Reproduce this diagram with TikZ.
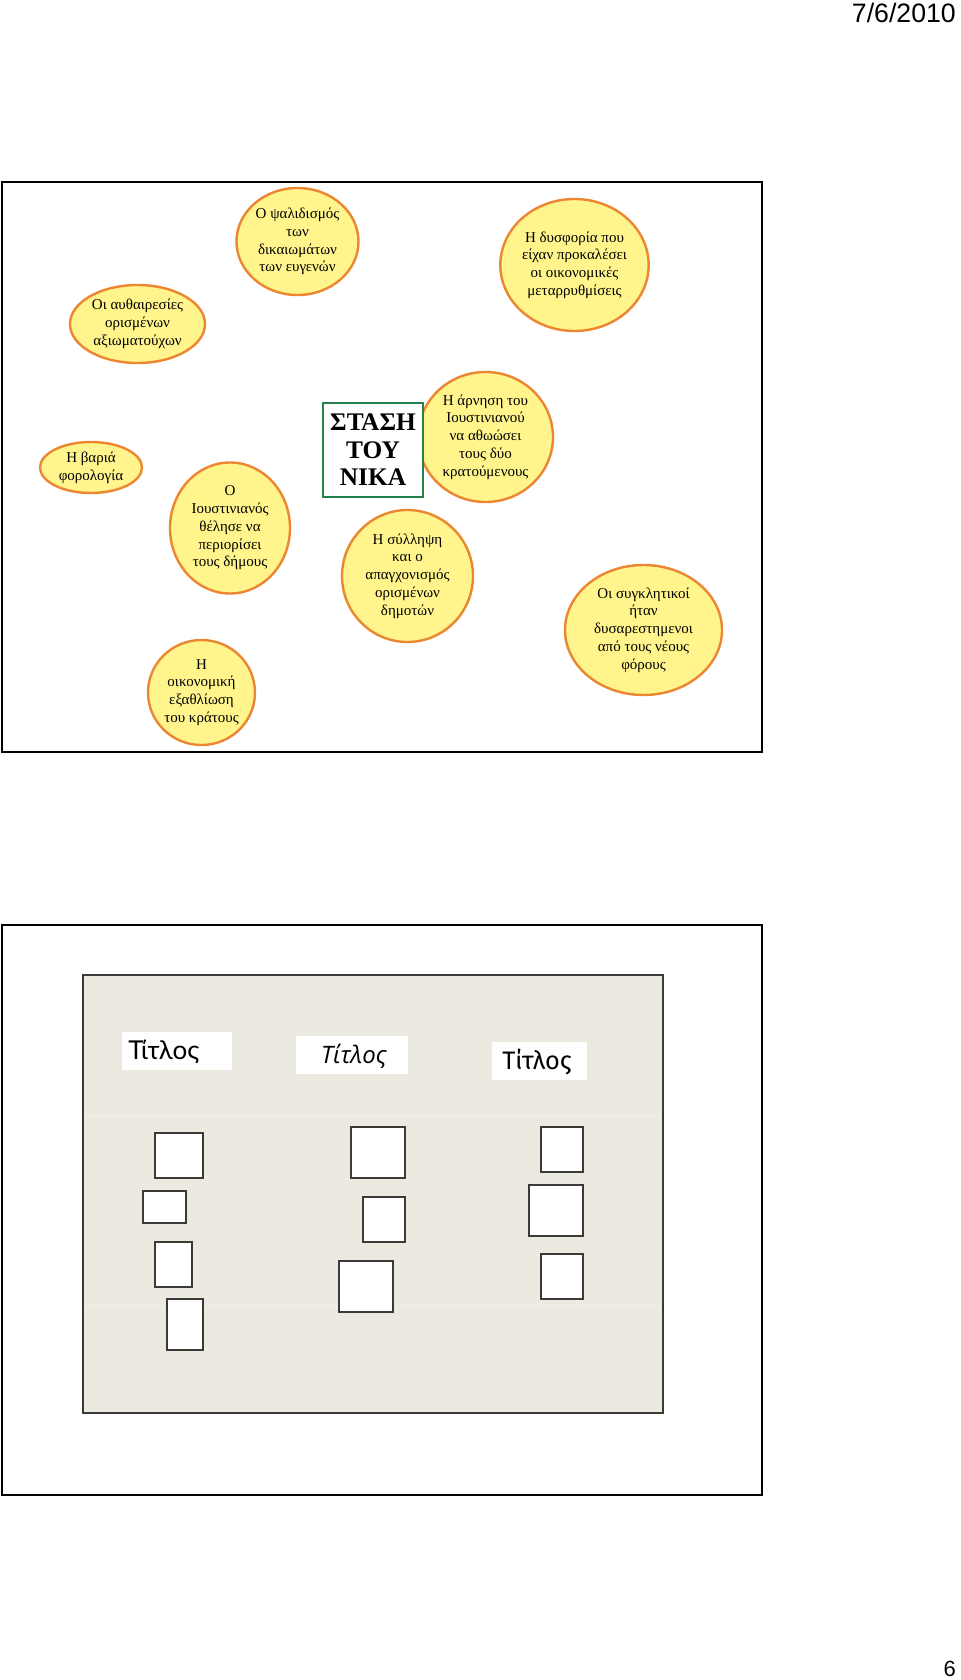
\documentclass[tikz,border=0pt]{standalone}
\usepackage{fontspec}
\setmainfont{Liberation Serif}
\newfontfamily\arialf{Liberation Sans}
\newfontfamily\titlea{Lato}
\newfontfamily\titleb{Open Sans}
\newfontfamily\titlec{Fira Sans}
\usetikzlibrary{shapes.geometric}
\definecolor{ellfill}{RGB}{255,245,140}
\definecolor{elldraw}{RGB}{236,134,48}
\definecolor{boxgreen}{RGB}{38,128,78}
\definecolor{panelbg}{RGB}{236,234,224}
\definecolor{sqdraw}{RGB}{60,58,54}
\tikzset{
  ell/.style={ellipse, draw=elldraw, fill=ellfill, line width=1.8pt, inner sep=0pt,
    align=center, font=\fontsize{11.25}{13.3}\selectfont},
  framebox/.style={draw=black, line width=1.9pt},
  sqbox/.style={draw=sqdraw, fill=white, line width=1.2pt},
  titlebox/.style={fill=white, draw=none}
}
\newcommand\ellnode[6]{\node[ell, minimum width={#4*1.5pt}, minimum height={#5*1.5pt}] (#1) at (#2,#3) {#6};}
\begin{document}
\begin{tikzpicture}[x=0.75pt,y=-0.75pt]
\useasboundingbox (0,0) rectangle (960,1680);
\fill[white] (0,0) rectangle (960,1680);
% header and footer
\node[anchor=east, inner sep=0pt, font=\arialf\fontsize{20}{23}\selectfont] (date) at (956,13) {7/6/2010};
\node[anchor=east, inner sep=0pt, font=\arialf\fontsize{16.5}{19}\selectfont] (pagenum) at (956,1669) {6};
% frame 1
\draw[framebox] (2,182) rectangle (762,752);
\ellnode{e1}{137.5}{324}{67.5}{39}{Οι αυθαιρεσίες\\ορισμένων\\αξιωματούχων}
\ellnode{e2}{297.5}{241.5}{61}{53.5}{Ο ψαλιδισμός\\των\\δικαιωμάτων\\των ευγενών}
\ellnode{e3}{574.5}{265}{73.5}{66}{Η δυσφορία που\\είχαν προκαλέσει\\οι οικονομικές\\μεταρρυθμίσεις}
\ellnode{e4}{91}{467.5}{51}{25.5}{Η βαριά\\φορολογία}
\ellnode{e5}{230}{528}{60}{65.5}{Ο\\Ιουστινιανός\\θέλησε να\\περιορίσει\\τους δήμους}
\ellnode{e6}{407.5}{576}{65.5}{66}{Η σύλληψη\\και ο\\απαγχονισμός\\ορισμένων\\δημοτών}
\ellnode{e7}{201.5}{692.5}{53.5}{52.5}{Η\\οικονομική\\εξαθλίωση\\του κράτους}
\ellnode{e8}{485.5}{437}{67.5}{65}{Η άρνηση του\\Ιουστινιανού\\να αθωώσει\\τους δύο\\κρατούμενους}
\ellnode{e9}{643.5}{630}{78.5}{65}{Οι συγκλητικοί\\ήταν\\δυσαρεστημενοι\\από τους νέους\\φόρους}
\node[draw=boxgreen, fill=white, line width=1.6pt, minimum width=75pt, minimum height=70.5pt,
  inner sep=0pt, align=center, font=\bfseries\fontsize{19}{20.6}\selectfont] (stasi) at (373,450)
  {ΣΤΑΣΗ\\ΤΟΥ\\ΝΙΚΑ};
% frame 2
\draw[framebox] (2,925) rectangle (762,1495);
\draw[fill=panelbg, draw=sqdraw, line width=1pt] (83,975) rectangle (663,1413);
\draw[white!30!panelbg, line width=0.5pt] (84,1115) -- (662,1115);
\draw[white!30!panelbg, line width=0.5pt] (84,1305) -- (662,1305);
% titles
\node[titlebox, minimum width=82.5pt, minimum height=28.5pt] (tb1) at (177,1051) {};
\node[anchor=west, inner sep=0pt, font=\titlea\fontsize{19.5}{22}\selectfont] (t1) at (128,1052) {Τίτλος};
\node[titlebox, minimum width=84pt, minimum height=28.5pt] (tb2) at (352,1055) {};
\node[inner sep=0pt, font=\titleb\itshape\fontsize{18}{20}\selectfont] (t2) at (354,1056) {Τίτλος};
\node[titlebox, minimum width=71.25pt, minimum height=28.5pt] (tb3) at (539.5,1061) {};
\node[inner sep=0pt, font=\titlec\fontsize{19}{21}\selectfont] (t3) at (537,1062) {Τίτλος};
% small squares
\draw[sqbox] (155,1133) rectangle (203,1178);
\draw[sqbox] (143,1191) rectangle (186,1223);
\draw[sqbox] (155,1242) rectangle (192,1287);
\draw[sqbox] (167,1299) rectangle (203,1350);
\draw[sqbox] (351,1127) rectangle (405,1178);
\draw[sqbox] (363,1197) rectangle (405,1242);
\draw[sqbox] (339,1261) rectangle (393,1312);
\draw[sqbox] (541,1127) rectangle (583,1172);
\draw[sqbox] (529,1185) rectangle (583,1236);
\draw[sqbox] (541,1254) rectangle (583,1299);
\end{tikzpicture}
\end{document}
